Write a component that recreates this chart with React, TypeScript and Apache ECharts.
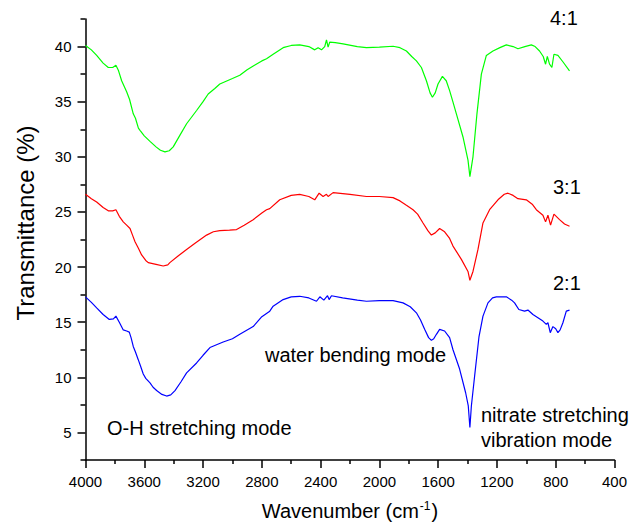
import React, { useEffect, useRef } from "react";
import * as echarts from "echarts";

// Wavenumber (cm-1) and transmittance (%)
const wn41 = [4000,3960,3924,3880,3845,3815,3793,3775,3754,3720,3700,3675,3660,3640,3629,3600,3561,3520,3490,3459,3430,3403,3360,3312,3244,3200,3165,3120,3086,3000,2950,2900,2850,2800,2768,2723,2655,2600,2542,2480,2440,2417,2394,2372,2360,2349,2338,2300,2247,2150,2088,2000,1907,1860,1816,1780,1748,1714,1680,1655,1639,1620,1601,1571,1545,1522,1500,1476,1431,1397,1384,1363,1336,1306,1272,1227,1180,1136,1090,1057,1010,966,940,910,885,869,857,842,826,812,785,750,706];
const t41 = [40.1,39.7,39.2,38.5,38.1,38.1,38.3,37.8,36.9,35.9,35.2,33.9,33.5,32.6,32.4,31.9,31.4,30.9,30.6,30.45,30.55,30.9,31.9,33.0,34.2,35.0,35.7,36.2,36.6,37.1,37.4,37.9,38.3,38.7,38.9,39.3,39.9,40.1,40.15,40.0,39.7,39.9,39.7,40.0,40.6,39.95,40.4,40.35,40.25,40.0,39.9,39.95,40.03,39.9,39.6,39.1,38.7,38.1,36.9,35.8,35.4,35.8,36.6,37.3,36.9,36.0,35.0,33.9,31.8,29.7,28.2,30.0,33.9,37.5,39.2,39.6,39.9,40.15,40.0,39.8,40.0,40.15,40.0,39.6,39.1,38.4,39.1,38.4,38.1,39.3,39.2,38.6,37.8];

const wn31 = [4000,3960,3924,3880,3845,3815,3793,3770,3743,3720,3697,3680,3663,3640,3618,3590,3573,3520,3471,3440,3426,3370,3312,3250,3176,3130,3086,3020,2972,2920,2859,2800,2768,2746,2678,2600,2542,2480,2440,2420,2410,2383,2360,2349,2315,2200,2088,2000,1907,1860,1816,1771,1740,1703,1670,1646,1620,1590,1556,1522,1499,1442,1397,1384,1363,1329,1295,1250,1193,1150,1125,1090,1057,1000,960,932,887,869,853,835,812,774,740,706];
const t31 = [26.6,26.2,25.9,25.4,25.1,25.1,25.2,24.6,24.1,23.8,23.5,22.9,22.3,21.7,21.1,20.6,20.4,20.25,20.1,20.2,20.4,21.0,21.6,22.2,22.9,23.2,23.3,23.35,23.4,23.8,24.3,24.9,25.2,25.3,26.1,26.5,26.6,26.4,26.1,26.5,26.7,26.4,26.6,26.4,26.75,26.6,26.4,26.4,26.3,26.0,25.6,25.2,24.8,24.0,23.3,22.9,23.1,23.5,23.2,22.6,21.9,20.7,19.6,18.8,19.6,21.6,24.0,25.2,26.1,26.6,26.7,26.5,26.2,26.1,25.7,25.2,24.7,24.1,24.7,23.8,24.8,24.3,23.9,23.7];

const wn21 = [4000,3960,3924,3880,3838,3810,3793,3770,3743,3720,3702,3690,3675,3660,3641,3625,3607,3590,3561,3540,3516,3480,3448,3420,3391,3350,3312,3244,3200,3153,3100,3063,3000,2950,2859,2800,2746,2723,2655,2600,2542,2480,2428,2405,2378,2353,2342,2326,2250,2150,2088,2000,1907,1839,1790,1748,1720,1692,1665,1646,1630,1612,1590,1556,1522,1499,1454,1413,1395,1384,1374,1352,1322,1295,1261,1230,1204,1136,1100,1080,1051,1012,989,955,921,887,864,853,837,819,800,785,770,751,728,706];
const t21 = [17.3,16.8,16.3,15.7,15.25,15.3,15.55,15.0,14.3,14.2,14.1,13.6,12.8,12.3,11.6,11.0,10.3,9.9,9.5,9.1,8.8,8.45,8.3,8.4,8.8,9.6,10.4,11.3,12.0,12.7,13.0,13.2,13.5,13.9,14.6,15.5,16.0,16.45,17.05,17.3,17.35,17.2,16.9,17.3,17.0,17.4,17.05,17.4,17.2,17.0,16.9,16.95,16.95,16.75,16.4,15.85,15.2,14.35,13.6,13.35,13.5,13.9,14.35,14.2,13.6,12.5,10.75,8.6,7.4,5.45,7.4,10.1,13.7,15.55,16.75,17.2,17.3,17.3,17.0,16.75,16.15,16.0,16.1,15.7,15.4,15.1,14.8,14.95,14.05,14.6,14.4,14.05,14.3,14.95,16.0,16.1];

const seriesNames = ["4:1", "3:1", "2:1"];
const seriesColors = ["#00ff00", "#ff0000", "#0000ff"];

const xMin = 400;
const xMax = 4000;
const xStep = 400;
const yMin = 2.5;
const yMax = 42.5;

const FONT = "'Liberation Sans', Arial, Helvetica, sans-serif";

function pairs(xs: number[], ys: number[]) {
  return xs.map((x, i) => [x, ys[i]]);
}

export default function App() {
  const ref = useRef<HTMLDivElement>(null);
  useEffect(() => {
    document.body.style.margin = "0";
    if (!ref.current) return;
    const chart = echarts.init(ref.current, undefined, { renderer: "svg" });
    const data = [pairs(wn41, t41), pairs(wn31, t31), pairs(wn21, t21)];
    const axisLineStyle = { color: "#000", width: 1.5 };
    const annot = (text: string, x: number, y: number) => ({
      type: "text",
      x,
      y,
      style: { text, fontSize: 20, fontFamily: FONT, fill: "#000", textVerticalAlign: "middle" },
    });
    chart.setOption({
      animation: false,
      backgroundColor: "#fff",
      grid: { left: 85.5, right: 15, top: 19, bottom: 70, containLabel: false },
      xAxis: {
        type: "value",
        inverse: true,
        min: xMin,
        max: xMax,
        interval: xStep,
        axisLine: { show: true, lineStyle: axisLineStyle },
        axisTick: { show: true, length: 8, lineStyle: axisLineStyle },
        minorTick: { show: true, splitNumber: 2, length: 4, lineStyle: axisLineStyle },
        splitLine: { show: false },
        axisLabel: {
          fontSize: 15,
          color: "#000",
          fontFamily: FONT,
          margin: 14,
          formatter: (v: number) => String(v),
        },
      },
      yAxis: [
        {
          type: "value",
          min: yMin,
          max: yMax,
          interval: 5,
          position: "left",
          axisLine: { show: true, onZero: false, lineStyle: axisLineStyle },
          axisTick: { show: true, length: 5, lineStyle: axisLineStyle },
          minorTick: { show: true, splitNumber: 2, length: 8, lineStyle: axisLineStyle },
          splitLine: { show: false },
          axisLabel: { show: false },
        },
        {
          type: "value",
          min: yMin,
          max: yMax,
          interval: 2.5,
          position: "left",
          axisLine: { show: false },
          axisTick: { show: false },
          splitLine: { show: false },
          axisLabel: {
            fontSize: 15,
            color: "#000",
            fontFamily: FONT,
            margin: 14,
            formatter: (v: number) => (Math.abs(v % 5) < 1e-6 ? String(v) : ""),
          },
        },
      ],
      series: data.map((d, i) => ({
        type: "line",
        name: seriesNames[i],
        data: d,
        yAxisIndex: 0,
        showSymbol: false,
        symbol: "none",
        lineStyle: { color: seriesColors[i], width: 1.2 },
        itemStyle: { color: seriesColors[i] },
      })),
      graphic: [
        {
          type: "text",
          x: 25,
          y: 223,
          rotation: Math.PI / 2,
          style: {
            text: "Transmittance (%)",
            fontSize: 24,
            fontFamily: FONT,
            fill: "#000",
            textAlign: "center",
            textVerticalAlign: "middle",
          },
        },
        {
          type: "text",
          x: 350,
          y: 511,
          style: {
            text: "{a|Wavenumber (cm}{s|-1}{a|)}",
            fontFamily: FONT,
            fill: "#000",
            textAlign: "center",
            textVerticalAlign: "middle",
            rich: {
              a: { fontSize: 20, fontFamily: FONT, fill: "#000" },
              s: { fontSize: 12, fontFamily: FONT, fill: "#000", verticalAlign: "top", padding: [0, 1, 10, 1] },
            },
          },
        },
        annot(seriesNames[0], 550, 18),
        annot(seriesNames[1], 553, 187),
        annot(seriesNames[2], 553, 283),
        annot("water bending mode", 265, 355),
        annot("O-H stretching mode", 107, 428),
        annot("nitrate stretching", 481, 415),
        annot("vibration mode", 481, 440),
      ],
    });
    return () => chart.dispose();
  }, []);
  return <div ref={ref} style={{ width: 630, height: 530 }} />;
}
